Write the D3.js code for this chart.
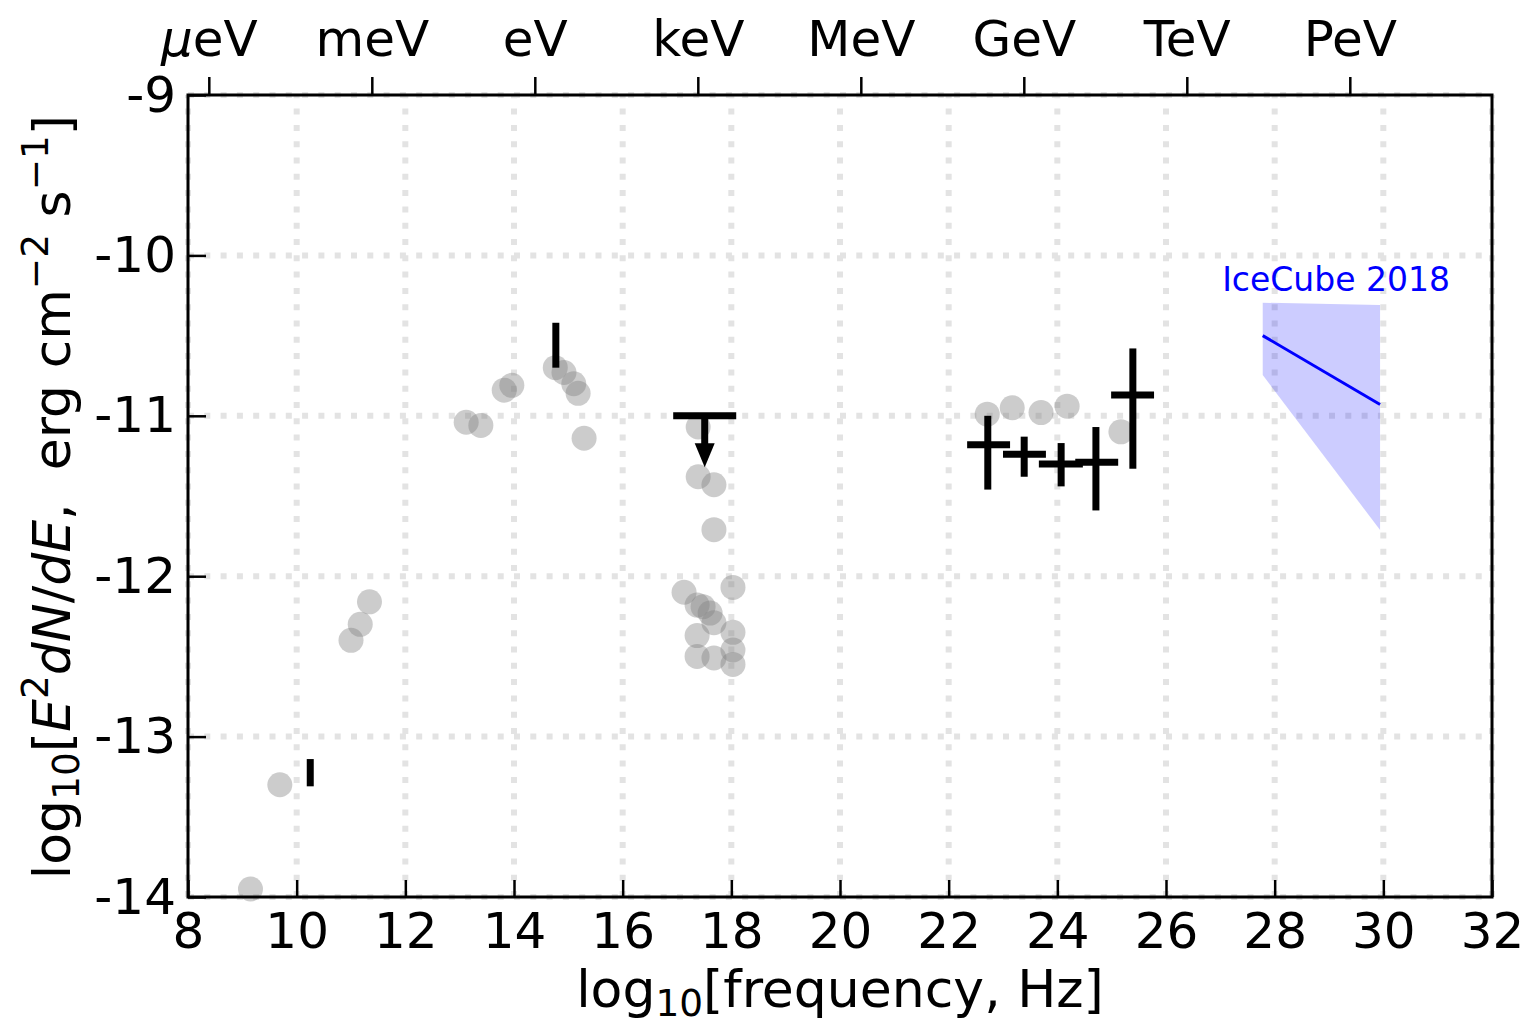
<!DOCTYPE html>
<html>
<head>
<meta charset="utf-8">
<script src="https://cdn.jsdelivr.net/npm/d3@7"></script>
<style>
  body { margin: 0; background: #fff; }
  text { font-family: "DejaVu Sans", sans-serif; fill: #000; }
</style>
</head>
<body>
<svg id="chart" width="1528" height="1025"></svg>
<script>
// ---- axis ticks ----
const xTickValues = [8, 10, 12, 14, 16, 18, 20, 22, 24, 26, 28, 30, 32];
const yTickValues = [-9, -10, -11, -12, -13, -14];
const energyLabels = ["μeV", "meV", "eV", "keV", "MeV", "GeV", "TeV", "PeV"];
// log10 of the photon frequency for 1 μeV, 1 meV, ... 1 PeV
const energyLogFreq = [8.383, 11.383, 14.383, 17.383, 20.383, 23.383, 26.383, 29.383];

// ---- archival multiwavelength fluxes (grey points) ----
const archivalFreq = [
  9.15, 9.69,
  11.00, 11.17, 11.34,
  13.12, 13.39, 13.82, 13.96,
  14.76, 14.92, 15.10, 15.18, 15.29,
  17.39, 17.39, 17.68, 17.68,
  17.13, 17.37, 17.48, 17.61, 17.68, 17.37, 18.03, 18.03, 17.37, 17.68, 18.03, 18.03,
  22.71, 23.17, 23.70, 24.18, 25.17
];
const archivalFlux = [
  -13.95, -13.30,
  -12.40, -12.30, -12.16,
  -11.04, -11.06, -10.84, -10.81,
  -10.70, -10.73, -10.80, -10.86, -11.14,
  -11.07, -11.38, -11.43, -11.71,
  -12.10, -12.18, -12.19, -12.23, -12.29, -12.37, -12.07, -12.35, -12.50, -12.51, -12.46, -12.55,
  -10.99, -10.95, -10.98, -10.94, -11.10
];

// ---- flux ranges measured during the flare (vertical bars) ----
const rangeFreq = [10.25, 14.77];
const rangeLow  = [-13.31, -10.70];
const rangeHigh = [-13.14, -10.42];

// ---- X-ray upper limit ----
const limitFreq = [17.51];
const limitFreqLow = [16.93];
const limitFreqHigh = [18.09];
const limitFlux = [-11.00];
const limitArrowTip = [-11.32];

// ---- gamma-ray spectrum (binned, with errors) ----
const gammaFreq     = [22.72, 23.39, 24.07, 24.71, 25.39];
const gammaFreqLow  = [22.34, 23.00, 23.66, 24.33, 24.99];
const gammaFreqHigh = [23.13, 23.79, 24.47, 25.12, 25.78];
const gammaFlux     = [-11.18, -11.24, -11.30, -11.29, -10.87];
const gammaFluxLow  = [-11.46, -11.38, -11.44, -11.59, -11.33];
const gammaFluxHigh = [-11.00, -11.13, -11.17, -11.07, -10.58];

// ---- IceCube 2018 neutrino flux: best fit and band ----
const nuFreq      = [27.78, 29.94];
const nuBestFit   = [-10.50, -10.93];
const nuBandUpper = [-10.295, -10.31];
const nuBandLower = [-10.746, -11.712];
const nuLabel = "IceCube 2018";
const nuLabelPos = [29.13, -10.22];

// ---- layout ----
const svg = d3.select("#chart");
const plotLeft = 188, plotRight = 1492, plotTop = 95, plotBottom = 897;
const x = d3.scaleLinear().domain([8, 32]).range([plotLeft, plotRight]);
const y = d3.scaleLinear().domain([-9, -14]).range([plotTop, plotBottom]);

const FONT = 50;
const LABEL_FONT = 52;

// grid (dotted)
const grid = svg.append("g").attr("class", "grid")
  .attr("stroke", "#e3e3e3").attr("stroke-width", 6)
  .attr("stroke-dasharray", "6,10.3");
grid.selectAll("line.v").data(xTickValues).join("line").attr("class", "v")
  .attr("x1", d => x(d)).attr("x2", d => x(d))
  .attr("y1", y(-14)).attr("y2", y(-9));
grid.selectAll("line.h").data(yTickValues).join("line").attr("class", "h")
  .attr("x1", x(8)).attr("x2", x(32))
  .attr("y1", d => y(d)).attr("y2", d => y(d));

// archival points
svg.append("g").selectAll("circle")
  .data(archivalFreq.map((f, i) => [f, archivalFlux[i]]))
  .join("circle")
  .attr("cx", d => x(d[0])).attr("cy", d => y(d[1])).attr("r", 12.5)
  .attr("fill", "#808080").attr("fill-opacity", 0.4);

// IceCube band and best fit
const nuData = nuFreq.map((f, i) => ({ f, lo: nuBandLower[i], hi: nuBandUpper[i], best: nuBestFit[i] }));
svg.append("path").datum(nuData)
  .attr("d", d3.area().x(d => x(d.f)).y0(d => y(d.lo)).y1(d => y(d.hi)))
  .attr("fill", "#0000ff").attr("fill-opacity", 0.2);
svg.append("path").datum(nuData)
  .attr("d", d3.line().x(d => x(d.f)).y(d => y(d.best)))
  .attr("fill", "none").attr("stroke", "#0000ff").attr("stroke-width", 3);
svg.append("text")
  .attr("x", x(nuLabelPos[0])).attr("y", y(nuLabelPos[1]))
  .attr("text-anchor", "middle").attr("font-size", 33)
  .style("fill", "#0000ff").text(nuLabel);

// black marks
const marks = svg.append("g").attr("stroke", "#000").attr("stroke-width", 7).attr("fill", "none");

marks.selectAll("line.range").data(rangeFreq).join("line").attr("class", "range")
  .attr("x1", d => x(d)).attr("x2", d => x(d))
  .attr("y1", (d, i) => y(rangeLow[i])).attr("y2", (d, i) => y(rangeHigh[i]));

// gamma-ray crosses
marks.selectAll("line.gx").data(gammaFreq).join("line").attr("class", "gx")
  .attr("x1", (d, i) => x(gammaFreqLow[i])).attr("x2", (d, i) => x(gammaFreqHigh[i]))
  .attr("y1", (d, i) => y(gammaFlux[i])).attr("y2", (d, i) => y(gammaFlux[i]));
marks.selectAll("line.gy").data(gammaFreq).join("line").attr("class", "gy")
  .attr("x1", d => x(d)).attr("x2", d => x(d))
  .attr("y1", (d, i) => y(gammaFluxLow[i])).attr("y2", (d, i) => y(gammaFluxHigh[i]));

// upper limit: bar, shaft and arrow head
const headLen = 24, headHalf = 10;
limitFreq.forEach((f, i) => {
  marks.append("line")
    .attr("x1", x(limitFreqLow[i])).attr("x2", x(limitFreqHigh[i]))
    .attr("y1", y(limitFlux[i])).attr("y2", y(limitFlux[i]));
  marks.append("line")
    .attr("x1", x(f)).attr("x2", x(f))
    .attr("y1", y(limitFlux[i])).attr("y2", y(limitArrowTip[i]) - headLen + 2);
  const tx = x(f), ty = y(limitArrowTip[i]);
  svg.append("path")
    .attr("d", `M${tx - headHalf},${ty - headLen}L${tx + headHalf},${ty - headLen}L${tx},${ty}Z`)
    .attr("fill", "#000");
});

// axes
const tickStyle = g => {
  g.select(".domain").remove();
  g.selectAll(".tick line").attr("stroke", "#000").attr("stroke-width", 2.5);
  g.selectAll(".tick text").attr("font-size", FONT).attr("font-family", "DejaVu Sans");
};

svg.append("g").attr("transform", `translate(0,${plotBottom})`)
  .call(d3.axisBottom(x).tickValues(xTickValues).tickFormat(d3.format("d"))
    .tickSize(-17).tickPadding(15))
  .call(tickStyle);

svg.append("g").attr("transform", `translate(${plotLeft},0)`)
  .call(d3.axisLeft(y).tickValues(yTickValues).tickFormat(d => String(d))
    .tickSize(-18).tickPadding(12))
  .call(tickStyle);

const topAxis = svg.append("g").attr("transform", `translate(0,${plotTop})`)
  .call(d3.axisTop(x).tickValues(energyLogFreq).tickFormat((d, i) => energyLabels[i])
    .tickSize(18).tickPadding(21))
  .call(tickStyle);
// the micro sign is set in italic
topAxis.selectAll(".tick text").filter((d, i) => i === 0).each(function () {
  const t = d3.select(this);
  t.text(null);
  t.append("tspan").style("font-style", "italic").text("μ");
  t.append("tspan").text("eV");
});

// frame
svg.append("rect")
  .attr("x", plotLeft).attr("y", plotTop)
  .attr("width", plotRight - plotLeft).attr("height", plotBottom - plotTop)
  .attr("fill", "none").attr("stroke", "#000").attr("stroke-width", 3);

// rich text helper: parts with optional sub/sup and italic
function richText(sel, parts, size) {
  let shift = 0;
  parts.forEach(p => {
    const target = p.sub ? 0.17 * size : p.sup ? -0.42 * size : 0;
    const ts = sel.append("tspan")
      .attr("dy", target - shift)
      .attr("font-size", (p.sub || p.sup) ? size * 0.72 : size)
      .text(p.t);
    if (p.it) ts.style("font-style", "italic");
    shift = target;
  });
}

const xLabel = svg.append("text")
  .attr("x", (plotLeft + plotRight) / 2).attr("y", 1007)
  .attr("text-anchor", "middle").attr("font-size", LABEL_FONT)
  .style("white-space", "pre");
richText(xLabel, [
  { t: "log" }, { t: "10", sub: true }, { t: "[frequency, Hz]" }
], LABEL_FONT);

const yLabel = svg.append("text")
  .attr("transform", `translate(70,${(plotTop + plotBottom) / 2 + 1}) rotate(-90)`)
  .attr("text-anchor", "middle").attr("font-size", LABEL_FONT)
  .style("white-space", "pre");
richText(yLabel, [
  { t: "log" }, { t: "10", sub: true }, { t: "[" }, { t: "E", it: true }, { t: "2", sup: true },
  { t: "dN", it: true }, { t: "/" }, { t: "dE", it: true }, { t: ",  erg cm" },
  { t: "−2", sup: true }, { t: " s" }, { t: "−1", sup: true }, { t: "]" }
], LABEL_FONT);
</script>
</body>
</html>
